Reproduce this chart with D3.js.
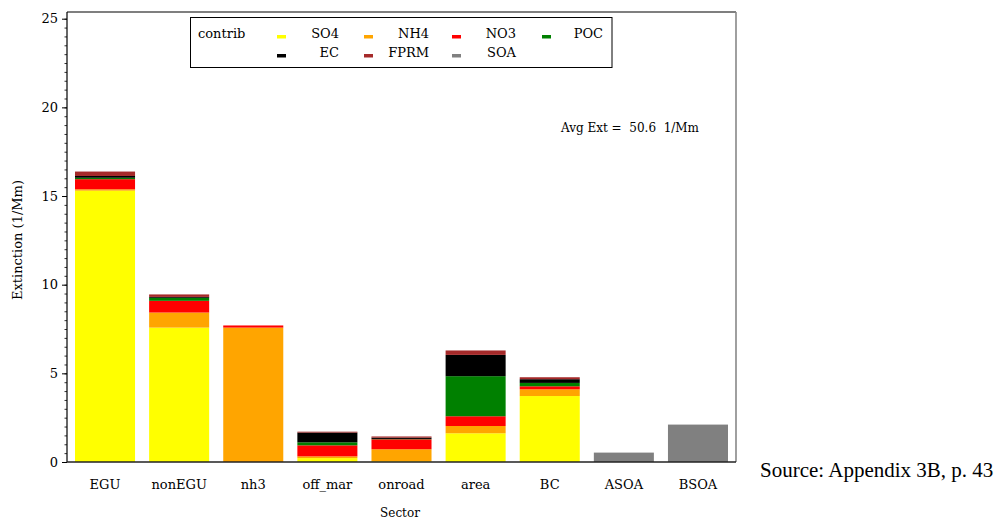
<!DOCTYPE html>
<html>
<head>
<meta charset="utf-8">
<script src="https://cdn.jsdelivr.net/npm/d3@7"></script>
<style>
  html, body { margin: 0; padding: 0; background: #fff; }
  svg { display: block; }
  text { font-family: "DejaVu Serif", serif; fill: #000; }
</style>
</head>
<body>
<svg id="chart" width="998" height="520"></svg>
<script>
// Sector contributions to extinction (1/Mm), by species
const sectors = ["EGU", "nonEGU", "nh3", "off_mar", "onroad", "area", "BC", "ASOA", "BSOA"];
const species = ["SO4", "NH4", "NO3", "POC", "EC", "FPRM", "SOA"];
const so4  = [15.30, 7.58, 0.00, 0.22, 0.04, 1.62, 3.72, 0.00, 0.00];
const nh4  = [0.08, 0.85, 7.58, 0.10, 0.68, 0.41, 0.38, 0.00, 0.00];
const no3  = [0.57, 0.66, 0.12, 0.62, 0.56, 0.55, 0.17, 0.00, 0.00];
const poc  = [0.08, 0.17, 0.00, 0.17, 0.02, 2.26, 0.19, 0.00, 0.00];
const ec   = [0.10, 0.05, 0.00, 0.55, 0.07, 1.20, 0.21, 0.00, 0.00];
const fprm = [0.25, 0.14, 0.00, 0.05, 0.07, 0.25, 0.11, 0.00, 0.00];
const soa  = [0.00, 0.00, 0.00, 0.00, 0.00, 0.00, 0.00, 0.53, 2.11];
const yTicks = [0, 5, 10, 15, 20, 25];
const avgExt = "50.6";

const colors = ["#ffff00", "#ffa500", "#ff0000", "#008000", "#000000", "#a52a2a", "#808080"];
const seriesVals = [so4, nh4, no3, poc, ec, fprm, soa];

const rows = sectors.map((s, i) => {
  const r = { sector: s };
  species.forEach((sp, j) => { r[sp] = seriesVals[j][i]; });
  return r;
});

const svg = d3.select("#chart");
const plotL = 67, plotR = 736, plotT = 12, plotB = 462;

const x = d3.scaleBand().domain(sectors).range([plotL, plotR])
  .paddingInner(0.19).paddingOuter(0.108);
const y = d3.scaleLinear().domain([0, 25]).range([plotB, 18.7]);
const color = d3.scaleOrdinal().domain(species).range(colors);

const stacked = d3.stack().keys(species)(rows);

svg.append("g").selectAll("g").data(stacked).join("g")
  .attr("fill", d => color(d.key))
  .selectAll("rect").data(d => d).join("rect")
  .attr("x", d => x(d.data.sector))
  .attr("width", x.bandwidth())
  .attr("y", d => y(d[1]))
  .attr("height", d => Math.max(0, y(d[0]) - y(d[1])));

// frame: top and right
svg.append("line").attr("x1", plotL).attr("x2", plotR).attr("y1", plotT).attr("y2", plotT)
  .attr("stroke", "#000").attr("stroke-width", 1.2);
svg.append("line").attr("x1", plotR).attr("x2", plotR).attr("y1", plotT).attr("y2", plotB)
  .attr("stroke", "#888").attr("stroke-width", 1.6);

// y axis with minor ticks
const yMinor = svg.append("g").attr("transform", `translate(${plotL},0)`)
  .call(d3.axisLeft(y).tickValues(d3.range(0, 25.01, 0.5)).tickSize(2.5).tickFormat(""));
yMinor.select(".domain").remove();
yMinor.selectAll(".tick line").attr("stroke", "#333");
const yMajor = svg.append("g").attr("transform", `translate(${plotL},0)`)
  .call(d3.axisLeft(y).tickValues(yTicks).tickSize(5).tickPadding(4).tickFormat(d3.format("d")));
yMajor.select(".domain").remove();
yMajor.selectAll("text").style("font-size", "13px").style("font-family", "DejaVu Serif").attr("fill", "#222");
svg.append("line").attr("x1", plotL).attr("x2", plotL).attr("y1", plotT).attr("y2", plotB)
  .attr("stroke", "#000").attr("stroke-width", 1.2);

// x axis
const xAxis = svg.append("g").attr("transform", `translate(0,${plotB})`)
  .call(d3.axisBottom(x).tickSize(0).tickPadding(18));
xAxis.select(".domain").remove();
xAxis.selectAll("text").style("font-size", "13px").style("font-family", "DejaVu Serif").attr("fill", "#222");
svg.append("line").attr("x1", plotL).attr("x2", plotR).attr("y1", plotB).attr("y2", plotB)
  .attr("stroke", "#222").attr("stroke-width", 1.4);

// axis titles
svg.append("text").attr("x", 400).attr("y", 517).attr("text-anchor", "middle")
  .style("font-size", "12px").attr("fill", "#222").text("Sector");
svg.append("text").attr("transform", "translate(22,240) rotate(-90)").attr("text-anchor", "middle")
  .style("font-size", "13px").attr("fill", "#222").text("Extinction (1/Mm)");

// average extinction note
svg.append("text").attr("x", 561).attr("y", 132).style("font-size", "12px").attr("fill", "#222")
  .attr("xml:space", "preserve").text(`Avg Ext =  ${avgExt}  1/Mm`);

// legend
const lg = svg.append("g");
lg.append("rect").attr("x", 190.5).attr("y", 17.5).attr("width", 421.5).attr("height", 50)
  .attr("fill", "#fff").attr("stroke", "#000").attr("stroke-width", 1);
lg.append("text").attr("x", 198).attr("y", 38).style("font-size", "13px").attr("fill", "#222").text("contrib");
const swX = [277, 364, 452, 542];
const labX = [339, 429, 516, 603];
species.forEach((sp, i) => {
  const col = i % 4, row = Math.floor(i / 4);
  const yy = row === 0 ? 38 : 57;
  lg.append("rect").attr("x", swX[col]).attr("y", yy - 3).attr("width", 9).attr("height", 3.5)
    .attr("fill", color(sp));
  lg.append("text").attr("x", labX[col]).attr("y", yy).attr("text-anchor", "end")
    .style("font-size", "13px").attr("fill", "#222").text(sp);
});

// source note
svg.append("text").attr("x", 760).attr("y", 477)
  .style("font-size", "21px").style("font-family", "'Liberation Serif', 'Times New Roman', serif")
  .text("Source: Appendix 3B, p. 43");
</script>
</body>
</html>
